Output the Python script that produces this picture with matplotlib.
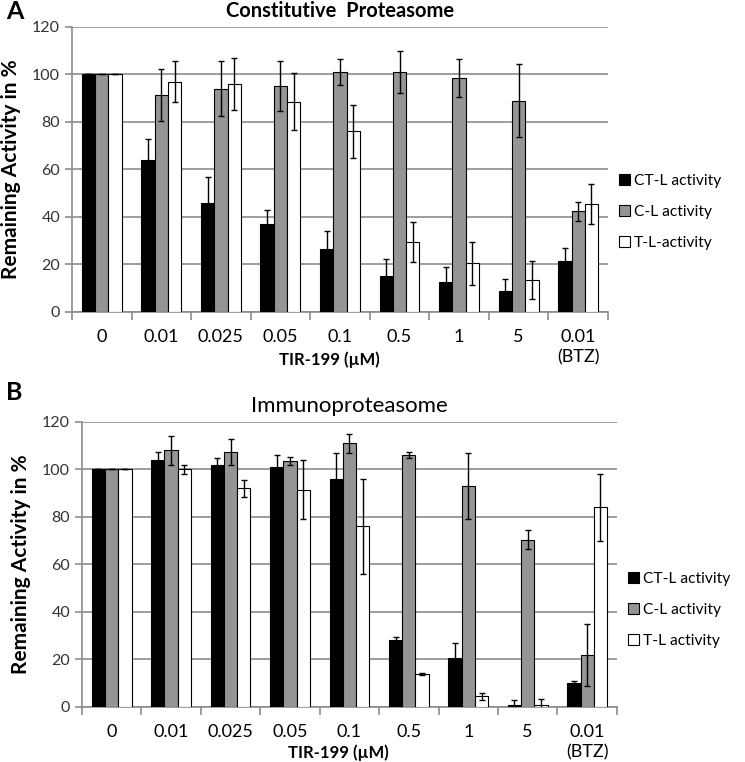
import matplotlib.pyplot as plt
import numpy as np

plt.rcParams['font.family'] = ['Lato', 'DejaVu Sans']

doses = ['0', '0.01', '0.025', '0.05', '0.1', '0.5', '1', '5', '0.01\n(BTZ)']

# Panel A - constitutive proteasome
a_ctl = [100, 64, 46, 37, 26.5, 15, 12.5, 9, 21.5]
a_ctl_err = [0, 9, 11, 6, 7.5, 7.5, 6.5, 5, 5.5]
a_cl = [100, 91.5, 94, 95, 101, 101, 98.5, 89, 42.5]
a_cl_err = [0, 11, 11.5, 10.5, 5.5, 9, 8, 15.5, 4]
a_tl = [100, 97, 96, 88.5, 76, 29.5, 20.5, 13.5, 45.5]
a_tl_err = [0, 8.5, 11, 12, 11, 8.5, 9, 8, 8.5]

# Panel B - immunoproteasome
b_ctl = [100, 104, 102, 101, 96, 28, 20.5, 1, 10]
b_ctl_err = [0, 3.5, 3, 5, 11, 1.5, 6.5, 2, 1]
b_cl = [100, 108, 107.5, 103.5, 111, 106, 93, 70.5, 22]
b_cl_err = [0, 6, 5.5, 1.8, 4, 1.3, 14, 4, 13]
b_tl = [100, 100, 92, 91.5, 76, 14, 4.5, 1, 84]
b_tl_err = [0, 2, 3.5, 12.5, 20, 0.5, 1.5, 2.5, 14]

colors = ['black', '#959595', 'white']
grid_c = '#8c8c8c'


def panel(ax, series, errs, labels, title, title_size, title_weight, legend_y, xlab_y):
    x = np.arange(len(doses))
    w = 0.223
    for i, (vals, err, lab, c) in enumerate(zip(series, errs, labels, colors)):
        ax.bar(x + (i - 1) * w, vals, w, color=c, edgecolor='black', linewidth=0.8,
               label=lab, zorder=3)
        ax.errorbar(x + (i - 1) * w, vals, yerr=err, fmt='none', ecolor='black',
                    elinewidth=1, capsize=2.5, capthick=1, zorder=4)
    ax.set_xlim(-0.5, len(doses) - 0.5)
    ax.set_ylim(0, 120)
    ax.set_yticks(range(0, 121, 20))
    ax.yaxis.grid(True, color=grid_c, linewidth=1.2, zorder=0)
    ax.set_axisbelow(True)
    for s in ['top', 'right']:
        ax.spines[s].set_visible(False)
    for s in ['left', 'bottom']:
        ax.spines[s].set_color(grid_c)
        ax.spines[s].set_linewidth(1.2)
    ax.set_xticks(np.arange(-0.5, len(doses)), minor=False)
    ax.set_xticklabels([])
    ax.set_xticks(x, minor=True)
    ax.set_xticklabels(doses, minor=True, fontsize=13, linespacing=1.35)
    ax.tick_params(axis='x', which='minor', length=0, pad=12)
    ax.tick_params(axis='x', which='major', length=6, color=grid_c, width=1.2)
    ax.tick_params(axis='y', length=5, color=grid_c, width=1.2, labelsize=11.5,
                   labelcolor='#333333')
    ax.set_ylabel('Remaining Activity in %', fontsize=15, fontweight='bold', labelpad=8)
    ax.set_xlabel('TIR-199 (µM)', fontsize=12, fontweight='bold', va='center')
    ax.xaxis.set_label_coords(0.48, xlab_y)
    ax.set_title(title, fontsize=title_size, fontweight=title_weight, pad=7)
    ax.legend(loc='center left', bbox_to_anchor=(1.0, legend_y), frameon=False,
              fontsize=11.2, handlelength=0.7, handleheight=0.7, handletextpad=0.25,
              labelspacing=1.1, borderpad=0.2)


fig = plt.figure(figsize=(7.45, 7.62), dpi=100)
ax1 = fig.add_axes([0.0966, 0.5906, 0.7195, 0.374])
ax2 = fig.add_axes([0.110, 0.0722, 0.718, 0.374])

panel(ax1, [a_ctl, a_cl, a_tl], [a_ctl_err, a_cl_err, a_tl_err],
      ['CT-L activity', 'C-L activity', 'T-L-activity'],
      'Constitutive  Proteasome', 14.5, 'bold', 0.35, -0.168)
panel(ax2, [b_ctl, b_cl, b_tl], [b_ctl_err, b_cl_err, b_tl_err],
      ['CT-L activity', 'C-L activity', 'T-L activity'],
      'Immunoproteasome', 16, 'normal', 0.34, -0.161)

fig.text(0.008, 0.985, 'A', fontsize=18, fontweight='bold', va='center')
fig.text(0.008, 0.485, 'B', fontsize=18, fontweight='bold', va='center')

fig.savefig('out.png', dpi=100)
